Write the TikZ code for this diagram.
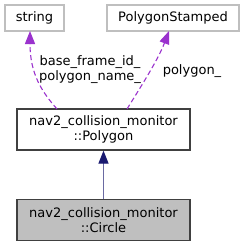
\documentclass[tikz,border=0pt]{standalone}
\usepackage{fontspec}
\setmainfont{DejaVu Sans}
\usetikzlibrary{arrows.meta}
\definecolor{boxgray}{HTML}{BFBFBF}
\definecolor{edgedark}{HTML}{404040}
\definecolor{purpleedge}{HTML}{9A32CD}
\definecolor{navyedge}{HTML}{191970}
\begin{document}
\begin{tikzpicture}[x=1pt,y=-1pt,
  every node/.style={font=\fontsize{13}{15}\selectfont, inner sep=0pt, align=center},
  extbox/.style={draw=boxgray, line width=1.2pt, minimum height=26pt},
  classbox/.style={draw=edgedark, line width=1.3pt, minimum width=173pt, minimum height=41pt},
  usage/.style={draw=purpleedge, dash pattern=on 5pt off 3pt, line width=1.1pt,
     -{Triangle[length=13pt,width=10pt,fill=purpleedge]}},
  inherit/.style={draw=navyedge!65, line width=1.3pt,
     -{Triangle[length=13pt,width=10pt,fill=navyedge,color=navyedge]}},
  lbl/.style={text=black}]
\useasboundingbox (0,0) rectangle (245,247);
\node[extbox, minimum width=59pt] (str) at (34.5,18) {string};
\node[extbox, minimum width=132pt] (ps) at (173,18) {PolygonStamped};
\node[classbox] (poly) at (103.5,129.5) {nav2\_collision\_monitor\\::Polygon};
\node[classbox, fill=boxgray] (circ) at (103.5,220) {nav2\_collision\_monitor\\::Circle};
\coordinate (s1) at (57,109);
\coordinate (s2) at (127,109);
\coordinate (t1) at (30,31);
\coordinate (t2) at (169,31);
\draw[usage] (s1) .. controls (42,92) and (30,74) .. (t1);
\draw[usage] (s2) .. controls (140,88) and (158,60) .. (t2);
\node[lbl] (l1) at (90,69.5) {base\_frame\_id\_\\polygon\_name\_};
\node[lbl] (l2) at (192,71) {polygon\_};
\draw[inherit] (circ.north) -- (poly.south);
\end{tikzpicture}
\end{document}
